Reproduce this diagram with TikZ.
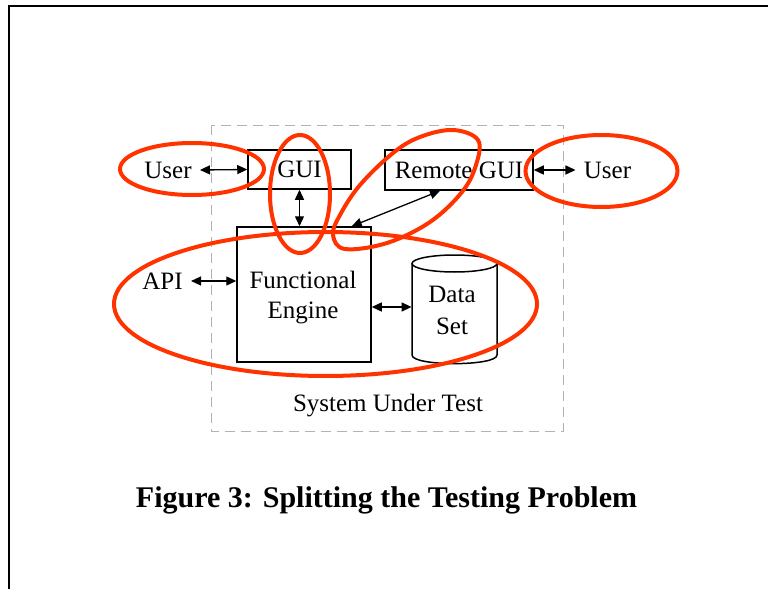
\documentclass[tikz,border=0pt]{standalone}
\usepackage{fontspec}
\setmainfont{Liberation Serif}
\usetikzlibrary{arrows,arrows.meta,shapes,positioning,calc}

\definecolor{markred}{RGB}{255,51,0}

\tikzset{
  block/.style={draw, line width=0.75pt, inner sep=0pt, align=center},
  lbl/.style={inner sep=4pt, font=\fontsize{12.5}{15}\selectfont},
  arr/.style={{Triangle[length=5pt,width=4.5pt]}-{Triangle[length=5pt,width=4.5pt]}, line width=0.65pt},
  redmark/.style={draw=markred, line width=2pt}
}

\begin{document}
\begin{tikzpicture}[x=0.5pt, y=-0.5pt, font=\fontsize{12.5}{15}\selectfont]
			\useasboundingbox (0,0) rectangle (768,589);
			% page frame
			\draw[line width=1pt] (9,589) -- (9,6) -- (768,6);
			
			% system under test
			\draw[gray!60, line width=0.4pt, dash pattern=on 5pt off 3pt] (211,125) rectangle (563,431);
			\node[lbl] (sut) at (388,406) {System Under Test};
			
			% boxes
			\node[block, minimum width=51.5pt, minimum height=19.5pt] (gui) at (299.5,169.5) {GUI};
			\node[block, minimum width=74pt, minimum height=20pt] (remote) at (459,170) {Remote GUI};
			\node[block, minimum width=67pt, minimum height=67.5pt] (fe) at (304,294.5) {};
			\node[align=center] (fetext) at (303,298) {Functional\\Engine};
			
			% data set
			\draw[line width=0.75pt] (412,263.5) -- (412,355) .. controls (412,366.5) and (497,366.5) .. (497,355) -- (497,263.5);
			\draw[line width=0.75pt] (454.5,263.5) ellipse [x radius=42.5, y radius=8.5];
			\node[inner sep=0pt, minimum width=42.5pt, minimum height=50pt, align=center] (data) at (454.5,307) {};
			\node[align=center] (datatext) at (452,310) {Data\\[1pt]Set};
			
			% outside labels
			\node[lbl] (userl) at (168,170) {User};
			\node[lbl] (userr) at (607.5,170) {User};
			\node[lbl] (api) at (162.5,281) {API};
			
			% connectors
			\draw[arr] (userl.east) -- (gui.west);
			\draw[arr] (remote.east) -- (userr.west);
			\draw[arr] (gui.south) -- (gui.south |- fe.north);
			\draw[arr] ([xshift=-9.5pt]remote.south) -- ([xshift=-10pt]fe.north east);
			\draw[arr] (api.east) -- (api.east -| fe.west);
			\draw[arr] (fe.east |- data.west) -- (data.west);
			
			% hand-drawn marks
			\draw[redmark] (192,169) ellipse [x radius=72, y radius=26];
			\draw[redmark] (300,194) ellipse [x radius=30, y radius=59];
			\draw[redmark] (601.5,171) ellipse [x radius=76, y radius=36];
			\draw[redmark] (325.5,304) ellipse [x radius=211.5, y radius=72];
			\draw[redmark] plot[smooth cycle, tension=0.6] coordinates {(453,130) (478,140) (476,165) (462,192) (430,222) (387,243) (345,249) (333,235) (340,215) (360,185) (393,153) (420,137)};
			
			% caption
			\node[font=\fontsize{15}{18}\selectfont\bfseries] (cap) at (386.5,500) {Figure 3: Splitting the Testing Problem};
		\end{tikzpicture}
\end{document}
